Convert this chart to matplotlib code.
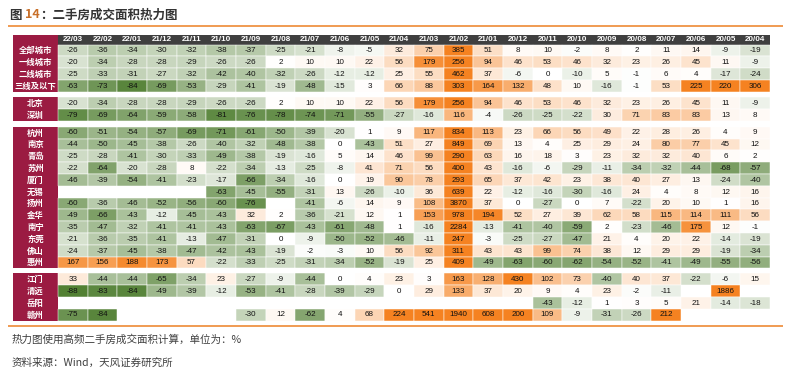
import matplotlib
matplotlib.use('Agg')
import matplotlib.pyplot as plt
from matplotlib.patches import Rectangle

N = None

months = ['22/03', '22/02', '22/01', '21/12', '21/11', '21/10', '21/09', '21/08',
          '21/07', '21/06', '21/05', '21/04', '21/03', '21/02', '21/01', '20/12',
          '20/11', '20/10', '20/09', '20/08', '20/07', '20/06', '20/05', '20/04']

group1_names = ['全部城市', '一线城市', '二线城市', '三线及以下']
group1_values = [
    [-26, -36, -34, -30, -32, -38, -37, -25, -21, -8, -5, 32, 75, 385, 51, 8, 10, -2, 8, 2, 11, 14, -9, -19],
    [-20, -34, -28, -28, -29, -26, -26, 2, 10, 10, 22, 56, 179, 256, 94, 46, 53, 46, 32, 23, 26, 45, 11, -9],
    [-25, -33, -31, -27, -32, -42, -40, -32, -26, -12, -12, 25, 55, 462, 37, -6, 0, -10, 5, -1, 6, 4, -17, -24],
    [-63, -73, -84, -69, -53, -29, -41, -19, -48, -15, 3, 66, 88, 303, 164, 132, 48, 10, -16, -1, 53, 225, 220, 306],
]

group2_names = ['北京', '深圳']
group2_values = [
    [-20, -34, -28, -28, -29, -26, -26, 2, 10, 10, 22, 56, 179, 256, 94, 46, 53, 46, 32, 23, 26, 45, 11, -9],
    [-79, -69, -64, -59, -58, -81, -76, -78, -74, -71, -55, -27, -16, 116, -4, -26, -25, -22, 30, 71, 83, 83, 13, 8],
]

group3_names = ['杭州', '南京', '青岛', '苏州', '厦门', '无锡', '扬州', '金华', '南宁', '东莞', '佛山', '惠州']
group3_values = [
    [-60, -51, -54, -57, -69, -71, -61, -50, -39, -20, 1, 9, 117, 834, 113, 23, 66, 56, 49, 22, 28, 26, 4, 9],
    [-44, -50, -45, -38, -26, -40, -32, -48, -38, 0, -43, 51, 27, 849, 69, 13, 4, 25, 29, 24, 80, 77, 45, 12],
    [-25, -28, -41, -30, -33, -49, -38, -19, -16, 5, 14, 46, 99, 290, 63, 16, 18, 3, 23, 32, 32, 40, 6, 2],
    [-22, -64, -20, -28, 8, -22, -34, -13, -25, -8, 41, 71, 56, 400, 43, -16, -6, -29, -11, -34, -32, -44, -68, -57],
    [-46, -39, -54, -41, -23, -17, -66, -34, -16, 0, 19, 90, 78, 293, 65, 37, 42, 23, 38, 40, 27, 13, -24, -40],
    [N, N, N, N, N, -63, -45, -55, -31, 13, -26, -10, 36, 639, 22, -12, -16, -30, -16, 24, 4, 8, 12, 16],
    [-60, -36, -46, -52, -56, -60, -76, N, -41, -6, 14, 9, 108, 3870, 37, 0, -27, 0, 7, -22, 20, 10, 1, 16],
    [-49, -66, -43, -12, -45, -43, 32, 2, -36, -21, 12, 1, 153, 978, 194, 52, 27, 39, 62, 58, 115, 114, 111, 56],
    [-35, -47, -32, -41, -41, -43, -63, -67, -43, -61, -48, 1, -16, 2284, -13, -41, -40, -59, 2, -23, -46, 175, 12, -1],
    [-21, -36, -35, -41, -13, -47, -31, 0, -9, -50, -52, -46, -11, 247, -3, -25, -27, -47, 21, 4, 20, 22, -14, -19],
    [-24, -37, -45, -38, -47, -42, -43, -19, -2, -3, 10, 56, 92, 311, 43, 43, 99, 74, 38, 12, 29, 29, -19, -34],
    [167, 156, 188, 173, 57, -22, -33, -25, -31, -34, -52, -19, 25, 409, -49, -63, -60, -62, -54, -52, -41, -49, -55, -56],
]

group4_names = ['江门', '清远', '岳阳', '赣州']
group4_values = [
    [33, -44, -44, -65, -34, 23, -27, -9, -44, 0, 4, 23, 3, 163, 128, 430, 102, 73, -40, 40, 37, -22, -6, 15],
    [-88, -83, -84, -49, -39, -12, -53, -41, -28, -39, -29, 0, 29, 133, 37, 20, 9, 4, 23, -2, -11, N, 1886, N],
    [N, N, N, N, N, N, N, N, N, N, N, N, N, N, N, N, -43, -12, 1, 3, 5, 21, -14, -18],
    [-75, -84, N, N, N, N, -30, 12, -62, 4, 68, 224, 541, 1940, 608, 200, 109, -9, -31, -26, 212, N, N, N],
]

groups = [(group1_names, group1_values), (group2_names, group2_values),
          (group3_names, group3_values), (group4_names, group4_values)]

title_prefix = '图 '
title_num = '14'
title_rest = '：二手房成交面积热力图'
note_text = '热力图使用高频二手房成交面积计算，单位为：%'
source_text = '资料来源：Wind，天风证券研究所'

CJK = ['Noto Sans CJK SC', 'DejaVu Sans']
MAROON = '#9b1b42'
HEADER = '#3f3f3f'
ORANGE = (0.96, 0.51, 0.13)
GREEN = (0.32, 0.50, 0.20)


def cell_color(v):
    if v is None:
        return None
    if v >= 0:
        t, base = min(v / 200.0, 1.0), ORANGE
    else:
        t, base = min(-v / 88.0, 1.0), GREEN
    return tuple(1 - t + t * b for b in base)


fig = plt.figure(figsize=(7.88, 3.75), dpi=100)
ax = fig.add_axes([0, 0, 1, 1])
ax.set_xlim(0, 788)
ax.set_ylim(375, 0)
ax.axis('off')

# title
TS = 9
t1 = ax.text(10, 15, title_prefix, fontsize=TS, fontweight='bold', color='#333333',
             family=CJK, va='center', ha='left')
fig.canvas.draw()
r = fig.canvas.get_renderer()
bb = t1.get_window_extent(r)
x_num = 10 + bb.width
t2 = ax.text(x_num, 15, title_num, fontsize=TS, fontweight='bold', color='#c8702a',
             family=CJK, va='center', ha='left')
bb2 = t2.get_window_extent(r)
ax.text(x_num + bb2.width, 15, title_rest, fontsize=TS, fontweight='bold', color='#333333',
        family=CJK, va='center', ha='left')
ax.plot([8, 783], [25.5, 25.5], color='#ee8a35', lw=1.2, solid_capstyle='butt')

# table geometry
x_lab0, x_lab1 = 13, 58
x0 = 58
cw = (770 - 58) / len(months)
rh = 11.8
header_y0, header_y1 = 34.5, 44.5
group_starts = [44.5, 97.2, 126.8, 273.4]

# header
ax.add_patch(Rectangle((x_lab0, header_y0), x_lab1 - x_lab0, header_y1 - header_y0,
                       facecolor=MAROON, edgecolor='none'))
ax.add_patch(Rectangle((x0, header_y0), cw * len(months), header_y1 - header_y0,
                       facecolor=HEADER, edgecolor='none'))
for j, m in enumerate(months):
    ax.text(x0 + cw * (j + 0.5), (header_y0 + header_y1) / 2 + 0.3, m, fontsize=5.8,
            fontweight='bold', color='white', ha='center', va='center',
            family='Liberation Sans')

for gi, (names, vals) in enumerate(groups):
    ys = group_starts[gi]
    ax.add_patch(Rectangle((x_lab0, ys), x_lab1 - x_lab0, rh * len(names),
                           facecolor=MAROON, edgecolor='none'))
    for i, (name, row) in enumerate(zip(names, vals)):
        y = ys + rh * i
        ax.text((x_lab0 + x_lab1) / 2, y + rh / 2 + 0.3, name, fontsize=6,
                fontweight='bold', color='white', ha='center', va='center', family=CJK)
        for j, v in enumerate(row):
            c = cell_color(v)
            if c is None:
                continue
            ax.add_patch(Rectangle((x0 + cw * j, y), cw, rh, facecolor=c,
                                   edgecolor='white', lw=0.35))
            ax.text(x0 + cw * (j + 0.5), y + rh / 2 + 0.3, f'{v}', fontsize=5.8,
                    color='#111111', ha='center', va='center', family='Liberation Sans')

# footer
ax.plot([8, 783], [326, 326], color='#ee8a35', lw=1.2, solid_capstyle='butt')
ax.text(12, 340, note_text, fontsize=7.6, color='#404040', ha='left', va='center', family=CJK)
ax.text(12, 363, source_text, fontsize=7.6, color='#404040', ha='left', va='center', family=CJK)

fig.savefig('out.png', dpi=100)
